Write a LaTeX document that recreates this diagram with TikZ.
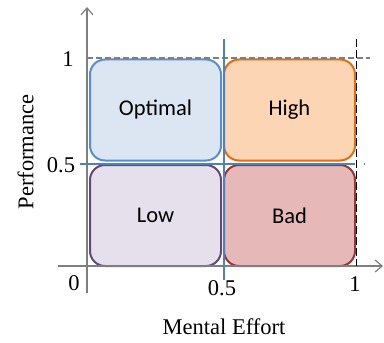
\documentclass[tikz,border=0pt]{standalone}
\usepackage{fontspec}
\setmainfont{Liberation Serif}
\newfontfamily\boxfont{Carlito}
\usetikzlibrary{positioning}
\usetikzlibrary{arrows.meta}
\definecolor{optblue}{HTML}{558ED5}
\definecolor{optfill}{HTML}{DCE6F2}
\definecolor{highorange}{HTML}{E46C0A}
\definecolor{highfill}{HTML}{FCD5B5}
\definecolor{lowpurple}{HTML}{604A7B}
\definecolor{lowfill}{HTML}{E6E0EC}
\definecolor{badred}{HTML}{953735}
\definecolor{badfill}{HTML}{E6B9B8}
\definecolor{splitblue}{HTML}{4F81BD}
\definecolor{axisgray}{HTML}{7F7F7F}

\begin{document}
\begin{tikzpicture}[x=0.5pt,y=-0.5pt,font=\fontsize{11.25}{13.5}\selectfont,
    region/.style={shape=rectangle,rounded corners=7.5pt,line width=1pt,
        minimum width=65.5pt,minimum height=50.5pt,inner sep=0pt,font=\boxfont\fontsize{11.25}{13.5}\selectfont},
    tick/.style={inner sep=0pt}]
    \useasboundingbox (0,0) rectangle (384,342);

    \node[region,draw=optblue,fill=optfill] (optimal) at (155.5,110) {Optimal};
    \node[region,draw=highorange,fill=highfill] (high) at (289.5,110) {High};
    \node[region,draw=lowpurple,fill=lowfill] (low) at (155.5,215.5) {Low};
    \node[region,draw=badred,fill=badfill] (bad) at (289.5,215.5) {Bad};

    \coordinate (ybot) at (87,293);
    \coordinate (ytop) at (87,7);
    \coordinate (xleft) at (58,266);
    \coordinate (xright) at (383,266);
    \coordinate (yone) at (87,58);
    \coordinate (yoneend) at (370,58);
    \coordinate (xonetop) at (356,39);
    \coordinate (xonebot) at (356,266);
    \coordinate (midtop) at (224,39);
    \coordinate (midbot) at (224,280);
    \coordinate (midleft) at (80,164);
    \coordinate (midright) at (365,164);

    \draw [axisgray,line width=0.6pt,-{Straight Barb[length=3.5pt,width=6pt]}] (ybot) -- (ytop);
    \draw [axisgray,line width=0.6pt,-{Straight Barb[length=3.5pt,width=6pt]}] (xleft) -- (xright);
    \draw [axisgray,line width=0.6pt,dash pattern=on 3pt off 1.5pt] (yone) -- (yoneend);
    \draw [black,line width=0.5pt,dash pattern=on 4pt off 1.5pt] (xonetop) -- (xonebot);
    \draw [splitblue,line width=1pt] (midtop) -- (midbot);
    \draw [splitblue,line width=1pt,dash pattern=on 137.5pt off 4.5pt on 1pt] (midleft) -- (midright);

    \node[tick] (lbl1y) at (68,59.5) {1};
    \node[tick] (lbl05y) at (61,165) {0.5};
    \node[tick] (lbl0) at (74,283.5) {0};
    \node[tick] (lbl05x) at (222,288) {0.5};
    \node[tick] (lbl1x) at (355,284.5) {1};
    \node[tick] (xlabel) at (224,327) {Mental Effort};
    \node[tick,rotate=90] (ylabel) at (25.5,152) {Performance};
\end{tikzpicture}
\end{document}
